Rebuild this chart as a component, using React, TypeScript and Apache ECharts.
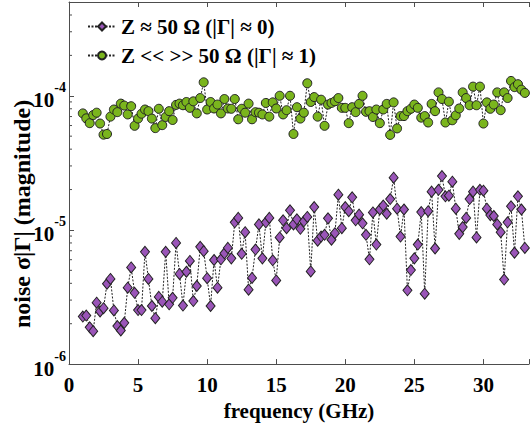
import React, { useEffect, useRef } from "react";
import * as echarts from "echarts";

const freqStart = 1;
const freqStep = 0.25;

const matchedNoise = [
  2.26e-6, 2.3e-6, 1.88e-6, 1.76e-6, 2.87e-6, 2.47e-6, 2.61e-6, 3.97e-6, 4.31e-6, 2.51e-6,
  1.92e-6, 1.78e-6, 2.03e-6, 3.71e-6, 5.25e-6, 3.4e-6, 2.53e-6, 2.53e-6, 6.87e-6, 4.31e-6,
  2.71e-6, 2.2e-6, 3.17e-6, 2.92e-6, 6.87e-6, 2.79e-6, 3.12e-6, 8.0e-6, 4.7e-6, 2.73e-6,
  4.88e-6, 5.87e-6, 2.95e-6, 3.82e-6, 7.48e-6, 6.95e-6, 4.37e-6, 2.71e-6, 5.97e-6, 3.71e-6,
  6.04e-6, 6.7e-6, 7.35e-6, 6.14e-6, 1.14e-5, 1.23e-5, 6.64e-6, 9.62e-6, 3.59e-6, 4.39e-6,
  7.14e-6, 1.1e-5, 6.14e-6, 1.14e-5, 1.23e-5, 5.94e-6, 4.2e-6, 8.79e-6, 1.18e-5, 1.03e-5,
  1.4e-5, 1.1e-5, 1.2e-5, 1.02e-5, 1.16e-5, 1.25e-5, 4.91e-6, 1.48e-5, 8.31e-6, 8.93e-6,
  9.2e-6, 1.22e-5, 8.45e-6, 9.46e-6, 1.83e-5, 1.03e-5, 1.48e-5, 1.38e-5, 1.75e-5, 1.18e-5,
  1.3e-5, 1.12e-5, 9.2e-6, 6.04e-6, 1.35e-5, 7.78e-6, 1.42e-5, 1.52e-5, 1.32e-5, 1.7e-5,
  2.45e-5, 1.44e-5, 8.93e-6, 1.42e-5, 3.55e-6, 5.02e-6, 6.14e-6, 7.78e-6, 1.36e-5, 3.35e-6,
  1.38e-5, 1.93e-5, 7.27e-6, 1.99e-5, 2.52e-5, 1.78e-5, 1.8e-5, 2.29e-5, 1.44e-5, 9.35e-6,
  1.05e-5, 1.23e-5, 1.7e-5, 1.93e-5, 8.79e-6, 1.99e-5, 1.96e-5, 1.44e-5, 1.29e-5, 1.27e-5,
  1.1e-5, 9.62e-6, 4.27e-6, 1.14e-5, 1.5e-5, 6.76e-6, 1.78e-5, 1.42e-5, 7.35e-6,
];

const mismatchedNoise = [
  7.39e-5, 6.79e-5, 6.25e-5, 7.18e-5, 7.48e-5, 6.21e-5, 5.13e-5, 5.19e-5, 6.99e-5, 7.9e-5,
  7.55e-5, 8.74e-5, 8.45e-5, 7.26e-5, 8.36e-5, 5.97e-5, 6.76e-5, 7.35e-5, 7.9e-5, 7.68e-5,
  6.76e-5, 5.74e-5, 8.0e-5, 6.04e-5, 6.95e-5, 7.68e-5, 6.6e-5, 8.55e-5, 8.74e-5, 8.5e-5,
  8.99e-5, 8.13e-5, 9.09e-5, 7.39e-5, 9.62e-5, 1.26e-4, 7.9e-5, 8.99e-5, 8.04e-5, 8.6e-5,
  7.39e-5, 9.46e-5, 8.04e-5, 8.0e-5, 9.46e-5, 6.68e-5, 8.0e-5, 7.48e-5, 8.74e-5, 6.68e-5,
  7.55e-5, 7.48e-5, 7.26e-5, 8.84e-5, 6.99e-5, 8.93e-5, 8.04e-5, 1.0e-4, 7.26e-5, 7.81e-5,
  1.0e-4, 5.19e-5, 8.22e-5, 6.76e-5, 7.48e-5, 1.24e-4, 8.99e-5, 9.78e-5, 6.99e-5, 9.35e-5,
  5.97e-5, 8.6e-5, 8.84e-5, 9.09e-5, 9.62e-5, 8.13e-5, 8.13e-5, 6.25e-5, 8.22e-5, 7.55e-5,
  8.7e-5, 1.0e-4, 7.6e-5, 7.68e-5, 6.95e-5, 7.9e-5, 6.25e-5, 7.9e-5, 8.7e-5, 5.11e-5,
  8.93e-5, 5.71e-5, 7.06e-5, 7.06e-5, 7.68e-5, 8.0e-5, 8.6e-5, 8.13e-5, 6.87e-5, 7.06e-5,
  6.32e-5, 8.7e-5, 7.68e-5, 1.06e-4, 9.46e-5, 6.32e-5, 9.04e-5, 6.57e-5, 7.15e-5, 8.04e-5,
  1.06e-4, 9.62e-5, 8.5e-5, 1.17e-4, 8.5e-5, 1.17e-4, 6.21e-5, 8.93e-5, 8.0e-5, 8.6e-5,
  1.06e-4, 7.81e-5, 1.06e-4, 9.62e-5, 1.29e-4, 1.16e-4, 1.22e-4, 1.11e-4, 1.05e-4,
];

const xTicks = [0, 5, 10, 15, 20, 25, 30];
const yMinorTicks = [
  2e-6, 3e-6, 4e-6, 5e-6, 6e-6, 7e-6, 8e-6, 9e-6,
  2e-5, 3e-5, 4e-5, 5e-5, 6e-5, 7e-5, 8e-5, 9e-5,
  2e-4, 3e-4, 4e-4,
];

const legendNames = ["Z \u2248 50 \u03A9 (|\u0393| \u2248 0)", "Z << >> 50 \u03A9 (|\u0393| \u2248 1)"];

const FONT = '"Liberation Serif", "Times New Roman", serif';

export default function App() {
  const ref = useRef<HTMLDivElement>(null);
  useEffect(() => {
    if (!ref.current) return;
    const chart = echarts.init(ref.current, null, { renderer: "svg" });
    const purple = matchedNoise.map((v, i) => [freqStart + i * freqStep, v]);
    const green = mismatchedNoise.map((v, i) => [freqStart + i * freqStep, v]);
    const axisColor = "#4d4d4d";
    const xMax = 33.3;
    const option: any = {
      animation: false,
      backgroundColor: "#ffffff",
      grid: { left: 69, right: 1, top: 2, bottom: 54, containLabel: false },
      legend: {
        orient: "vertical",
        left: 82,
        top: 11,
        itemGap: 8,
        itemWidth: 28,
        itemHeight: 10,
        data: legendNames,
        textStyle: { fontFamily: FONT, fontSize: 21, fontWeight: "bold", color: "#000" },
      },
      xAxis: [
        {
          type: "value",
          min: 0,
          max: xMax,
          interval: 5,
          position: "bottom",
          name: "frequency (GHz)",
          nameLocation: "middle",
          nameGap: 30,
          nameTextStyle: { fontFamily: FONT, fontSize: 21, fontWeight: "bold", color: "#000" },
          axisLine: { show: true, lineStyle: { color: axisColor, width: 1 } },
          axisTick: { show: true, inside: true, length: 5, lineStyle: { color: axisColor } },
          splitLine: { show: false },
          axisLabel: {
            margin: 10,
            fontFamily: FONT,
            fontSize: 21,
            fontWeight: "bold",
            color: "#000",
            formatter: (v: number) => (xTicks.indexOf(Math.round(v * 1000) / 1000) >= 0 ? String(v) : ""),
          },
        },
        {
          type: "value",
          min: 0,
          max: xMax,
          interval: 5,
          position: "top",
          axisLine: { show: true, lineStyle: { color: axisColor, width: 1 } },
          axisTick: { show: true, inside: true, length: 5, lineStyle: { color: axisColor } },
          axisLabel: { show: false },
          splitLine: { show: false },
        },
      ],
      yAxis: {
        type: "log",
        logBase: 10,
        min: 1e-6,
        max: 5e-4,
        axisLine: { show: true, lineStyle: { color: axisColor, width: 1 } },
        axisTick: { show: true, inside: true, length: 5, lineStyle: { color: axisColor } },
        splitLine: { show: false },
        axisLabel: {
          margin: 3,
          formatter: (v: number) => {
            const e = Math.log10(v);
            if (Math.abs(e - Math.round(e)) > 1e-6) return "";
            return "{b|10}{s|" + Math.round(e) + "}";
          },
          rich: {
            b: { fontFamily: FONT, fontSize: 21, fontWeight: "bold", color: "#000", lineHeight: 30, verticalAlign: "bottom", padding: [14, 0, 0, 0] },
            s: { fontFamily: FONT, fontSize: 14, fontWeight: "bold", color: "#000", lineHeight: 30, verticalAlign: "top", padding: [0, 0, 14, 0] },
          },
        },
      },
      graphic: [
        {
          type: "text",
          x: 22,
          y: 214,
          rotation: Math.PI / 2,
          style: {
            text: "noise \u03C3|\u0393| (magnitude)",
            font: 'bold 24px "Liberation Serif", serif',
            fill: "#000",
            textAlign: "center",
            textVerticalAlign: "middle",
          },
        },
      ],
      series: [
        {
          name: legendNames[0],
          type: "line",
          data: purple,
          symbol: "diamond",
          symbolSize: [9, 11],
          itemStyle: { color: "#9a55b8", borderColor: "#222", borderWidth: 1 },
          lineStyle: { color: "#222", width: 1, type: [2, 1.5] },
          z: 3,
        },
        {
          name: legendNames[1],
          type: "line",
          data: green,
          symbol: "circle",
          symbolSize: 9,
          itemStyle: { color: "#7ab51d", borderColor: "#222", borderWidth: 1 },
          lineStyle: { color: "#222", width: 1, type: [2, 1.5] },
          z: 3,
        },
        {
          type: "custom",
          silent: true,
          data: yMinorTicks.map((v) => [0, v]),
          renderItem: (params: any, api: any) => {
            const p = api.coord([api.value(0), api.value(1)]);
            return {
              type: "line",
              shape: { x1: p[0], y1: p[1], x2: p[0] + 3, y2: p[1] },
              style: { stroke: axisColor, lineWidth: 1 },
            };
          },
          z: 5,
        },
      ],
    };
    chart.setOption(option);
    return () => chart.dispose();
  }, []);
  return (
    <div
      ref={ref}
      style={{ position: "fixed", left: 0, top: 0, width: 532, height: 426, background: "#fff" }}
    />
  );
}
